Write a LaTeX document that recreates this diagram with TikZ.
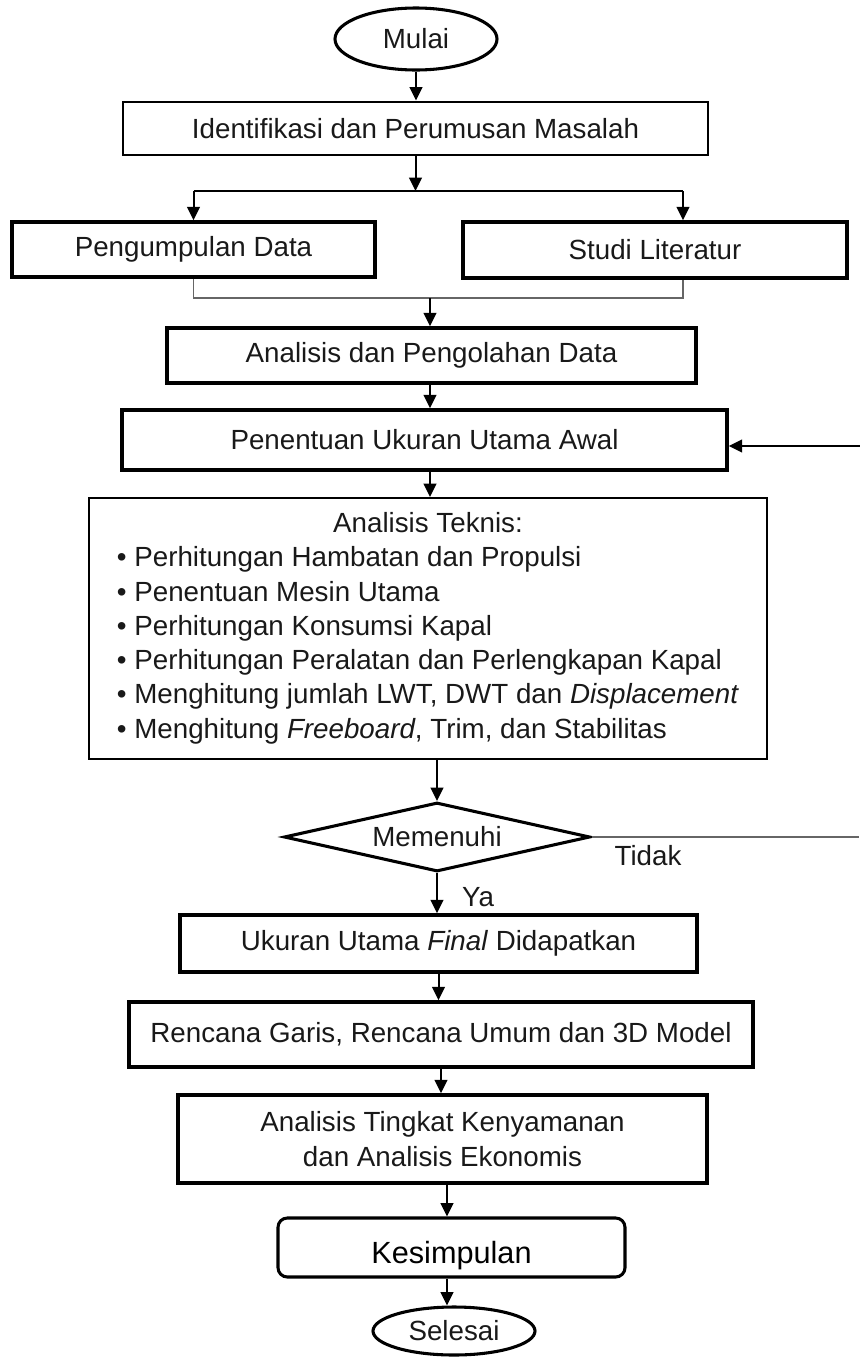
\documentclass[tikz,border=0pt]{standalone}
\usepackage{fontspec}
\setmainfont{Liberation Sans}
\usetikzlibrary{shapes.geometric,arrows.meta}

\begin{document}
\begin{tikzpicture}[x=0.75pt,y=-0.75pt,
    teks/.style={font=\fontsize{20.8}{25.7}\selectfont,text=black!90},
    kotak/.style={teks,draw,line width=2.8pt,inner sep=0pt},
    kotaktipis/.style={teks,draw,line width=1.7pt,inner sep=0pt},
    oval/.style={teks,draw,ellipse,line width=2.3pt,inner sep=0pt},
    panah/.style={line width=1.5pt,-{Triangle[length=10pt,width=9.5pt]}},
    garis/.style={line width=1.1pt,black!60}]
  \useasboundingbox (0,0) rectangle (860,1357);

  % kotak-kotak
  \node[oval,minimum width=121.5pt,minimum height=46.5pt] (mulai) at (416,39) {Mulai};
  \node[kotak,line width=2.2pt,minimum width=438.75pt,minimum height=39.75pt] (ident) at (415.5,128.5) {Identifikasi dan Perumusan Masalah};
  \node[kotak,minimum width=272.25pt,minimum height=41.25pt] (kumpul) at (193.5,249.5) {Pengumpulan Data};
  \node[kotak,minimum width=288pt,minimum height=42pt] (studi) at (655,250) {Studi Literatur};
  \node[kotak,minimum width=396.75pt,minimum height=41.25pt] (olah) at (431.5,355.5) {Analisis dan Pengolahan Data};
  \node[kotak,minimum width=453.75pt,minimum height=45pt] (awal) at (424.5,440) {Penentuan Ukuran Utama Awal};
  \node[kotaktipis,minimum width=508.5pt,minimum height=195.75pt] (teknis) at (428,628.5) {\begin{tabular}{@{}l@{}}
      \multicolumn{1}{c}{Analisis Teknis:}\\
      \textbullet\ Perhitungan Hambatan dan Propulsi\\
      \textbullet\ Penentuan Mesin Utama\\
      \textbullet\ Perhitungan Konsumsi Kapal\\
      \textbullet\ Perhitungan Peralatan dan Perlengkapan Kapal\\
      \textbullet\ Menghitung jumlah LWT, DWT dan \textit{Displacement}\\
      \textbullet\ Menghitung \textit{Freeboard}, Trim, dan Stabilitas
    \end{tabular}};
  \node[teks,draw,diamond,aspect=4.4,line width=2.3pt,inner sep=0pt,minimum width=229.5pt,minimum height=51.75pt] (cek) at (437,837) {Memenuhi};
  \node[kotak,minimum width=387.75pt,minimum height=42.75pt] (ukuran) at (438.5,943.5) {Ukuran Utama \textit{Final} Didapatkan};
  \node[kotak,minimum width=468pt,minimum height=48.75pt] (rencana) at (441,1034.5) {Rencana Garis, Rencana Umum dan 3D Model};
  \node[kotak,align=center,minimum width=396.75pt,minimum height=66pt] (tingkat) at (442.5,1139) {Analisis Tingkat Kenyamanan\\ dan Analisis Ekonomis};
  \node[kotak,line width=2.3pt,rounded corners=7pt,text=black,font=\fontsize{23}{26}\selectfont,minimum width=260.25pt,minimum height=44.25pt] (simpul) at (451.5,1247.5) {\raisebox{-6pt}[\height][\depth]{Kesimpulan}};
  \node[oval,minimum width=121.5pt,minimum height=36pt] (selesai) at (454,1331) {Selesai};

  % label
  \node[teks] (ya) at (478,897) {Ya};
  \node[teks] (tidak) at (648,856) {Tidak};

  % titik bantu
  \coordinate (bagi) at (415.5,191);
  \coordinate (bagikanan) at (683,191);
  \coordinate (gabung) at (430,298);
  \coordinate (tepibawah) at (859,837);
  \coordinate (tepiatas) at (860,446);

  % panah
  \draw[panah] (mulai.south) -- (mulai.south |- ident.north);
  \draw[panah] (ident.south) -- (bagi);
  \draw[line width=1.5pt] (kumpul.north |- bagi) -- (bagikanan);
  \draw[panah] (kumpul.north |- bagi) -- (kumpul.north);
  \draw[panah] (bagikanan) -- (bagikanan |- studi.north);
  \draw[garis] (kumpul.south) -- (kumpul.south |- gabung) -- (bagikanan |- gabung) -- (bagikanan |- studi.south);
  \draw[panah] (gabung) -- (gabung |- olah.north);
  \draw[panah] (olah.south -| gabung) -- (gabung |- awal.north);
  \draw[panah] (awal.south -| gabung) -- (gabung |- teknis.north);
  \draw[panah] (teknis.south -| cek) -- (cek.north);
  \draw[panah] (cek.south) -- (cek.south |- ukuran.north);
  \draw[panah] (ukuran.south) -- (ukuran.south |- rencana.north);
  \draw[panah] (rencana.south) -- (rencana.south |- tingkat.north);
  \draw[panah] ([xshift=3.4pt]tingkat.south) -- ([xshift=3.4pt]tingkat.south |- simpul.north);
  \draw[panah] ([xshift=-3.4pt]simpul.south) -- ([xshift=-3.4pt]simpul.south |- selesai.north);
  \draw[garis] (cek.east) -- (tepibawah);
  \draw[panah] (tepiatas) -- (tepiatas -| awal.east);
\end{tikzpicture}
\end{document}
